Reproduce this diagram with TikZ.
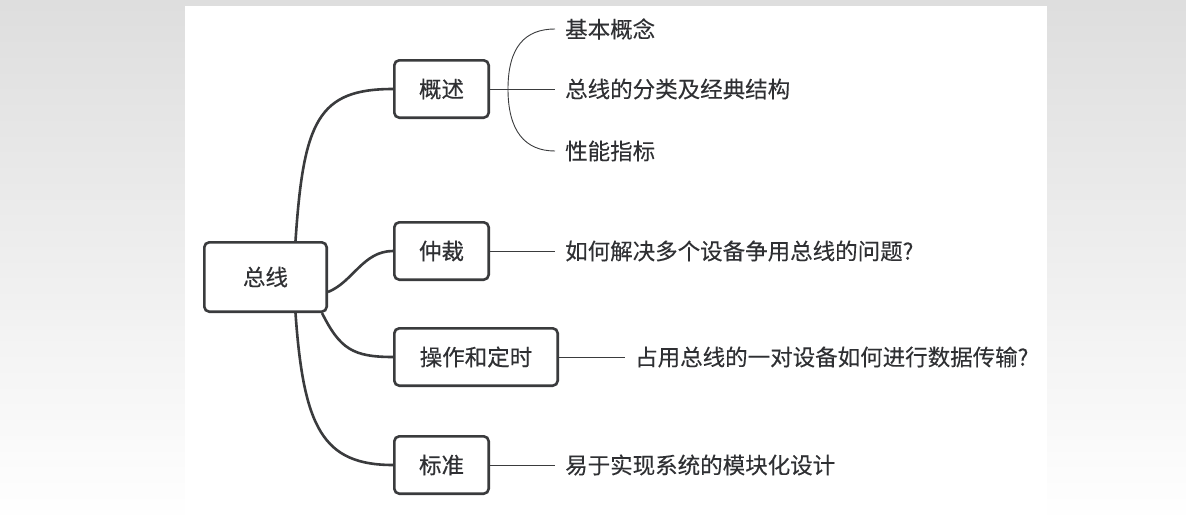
\documentclass[tikz,border=0pt]{standalone}
\usepackage{fontspec}
\newfontfamily\cjk[FakeBold=0.15]{Noto Sans CJK SC}
\newfontfamily\cjkbox[FakeBold=0.45]{Noto Sans CJK SC}
\usetikzlibrary{calc,positioning}
\definecolor{linegray}{HTML}{3A3B3D}
\definecolor{textgray}{HTML}{2F3033}
\tikzset{
  topic/.style={draw=linegray, line width=2.6pt, rounded corners=5pt, fill=white, minimum height=57.4pt, minimum width=94.4pt, inner sep=0pt, text=textgray, font=\cjkbox\fontsize{22.5}{25}\selectfont},
  branch/.style={draw=linegray, line width=2.6pt},
  twig/.style={draw=linegray, line width=0.9pt},
  leaf/.style={anchor=west, inner xsep=10pt, inner ysep=0pt, text=textgray, font=\cjk\fontsize{22.5}{25}\selectfont}
}
\begin{document}
\begin{tikzpicture}[x=1pt,y=-1pt]
  \useasboundingbox (0,0) rectangle (1186,522);
  \shade[top color=black!13, bottom color=white] (0,0) rectangle (1186,522);
  \fill[white] (185,6) rectangle (1047,522);

  \node[topic, minimum width=122.4pt, minimum height=69.4pt] (bus) at (265.5,277) {总线};
  \node[topic] (overview) at (441.5,89) {概述};
  \node[topic] (arbit) at (441.5,251) {仲裁};
  \node[topic, minimum width=163.4pt] (timing) at (476,357) {操作和定时};
  \node[topic] (standard) at (441.5,465) {标准};

  \draw[branch] ([xshift=30pt]bus.north) .. controls +(8,-120) and +(-75,0) .. (overview.west);
  \draw[branch] ([yshift=-15pt]bus.east) .. controls +(25,-10) and +(-30,0) .. (arbit.west);
  \draw[branch] ([xshift=-6pt]bus.south east) .. controls +(18,36) and +(-40,0) .. (timing.west);
  \draw[branch] ([xshift=30pt]bus.south) .. controls +(8,115) and +(-70,0) .. (standard.west);

  \node[leaf] (concept) at (555,29) {基本概念};
  \node[leaf] (kinds) at (555,89) {总线的分类及经典结构};
  \node[leaf] (perf) at (555,151) {性能指标};
  \node[leaf] (arbq) at (555,251) {如何解决多个设备争用总线的问题?};
  \node[leaf] (timeq) at (625,357) {占用总线的一对设备如何进行数据传输?};
  \node[leaf] (stdq) at (555,465) {易于实现系统的模块化设计};

  \coordinate (fork) at ([xshift=18pt]overview.east);
  \draw[twig] (overview.east) -- (kinds.west);
  \draw[twig] (fork) .. controls +(0,-42) and +(-30,0) .. (concept.west);
  \draw[twig] (fork) .. controls +(0,42) and +(-30,0) .. (perf.west);
  \draw[twig] (arbit.east) -- (arbq.west);
  \draw[twig] (timing.east) -- (timeq.west);
  \draw[twig] (standard.east) -- (stdq.west);
\end{tikzpicture}
\end{document}
